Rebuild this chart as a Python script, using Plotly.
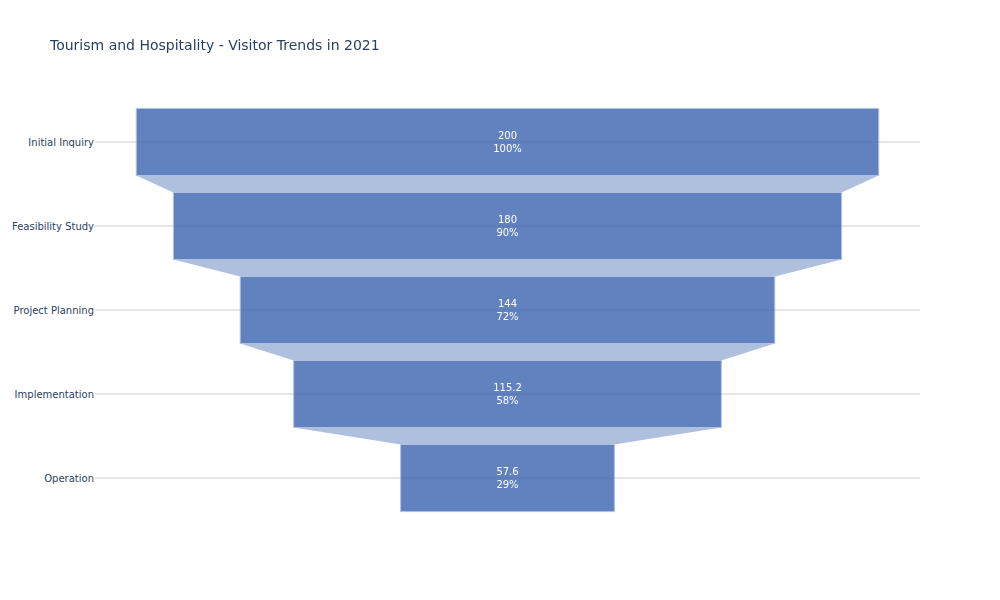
import plotly.graph_objects as go

stages = ["Initial Inquiry", "Feasibility Study", "Project Planning", "Implementation", "Operation"]
visitors = [200, 180, 144, 115.2, 57.6]

fig = go.Figure(go.Funnel(
    y=stages,
    x=visitors,
    textinfo="value+percent initial",
    textfont=dict(color="white", size=10),
    marker=dict(color="rgb(59,99,176)", line=dict(color="rgba(160,180,220,1)", width=1)),
    opacity=0.8,
    connector=dict(fillcolor="rgb(156,176,214)", line=dict(width=0)),
))

fig.update_layout(
    template="plotly_white",
    title=dict(text="Tourism and Hospitality - Visitor Trends in 2021", font=dict(size=14)),
    font=dict(family="DejaVu Sans", size=10, color="#2a3f5f"),
    yaxis=dict(showgrid=True, gridcolor="#e6e6e6", gridwidth=2),
    width=1000, height=600,
)

fig.write_html("out.html")
